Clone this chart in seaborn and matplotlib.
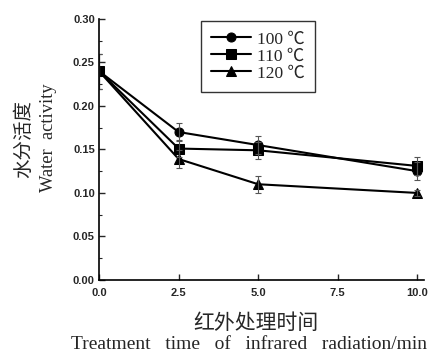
import numpy as np
import pandas as pd
import matplotlib
matplotlib.use("Agg")
import matplotlib.pyplot as plt
import seaborn as sns
from matplotlib.ticker import MultipleLocator, FormatStrFormatter

times = [0.0, 2.5, 5.0, 10.0]
series_names = ["100 ℃", "110 ℃", "120 ℃"]
aw_100 = [0.240, 0.170, 0.155, 0.125]
aw_110 = [0.240, 0.151, 0.149, 0.131]
aw_120 = [0.240, 0.139, 0.110, 0.100]
err_100 = [0.020, 0.010, 0.010, 0.010]
err_110 = [0.020, 0.010, 0.010, 0.010]
err_120 = [0.020, 0.010, 0.010, 0.003]
markers = ["o", "s", "^"]

rows = []
for name, vals in zip(series_names, [aw_100, aw_110, aw_120]):
    for t, v in zip(times, vals):
        rows.append({"time": t, "aw": v, "temp": name})
df = pd.DataFrame(rows)

sns.set_style("ticks")
plt.rcParams["font.family"] = ["Liberation Serif", "Noto Sans CJK SC", "DejaVu Sans"]

fig = plt.figure(figsize=(4.36, 3.56), dpi=100)
ax = fig.add_axes([0.227, 0.2135, 0.745, 0.7335])

sns.lineplot(data=df, x="time", y="aw", hue="temp", style="temp",
             palette=["black"] * 3, markers=markers, dashes=False,
             markersize=6.5, linewidth=1.5, markeredgecolor="black",
             ax=ax, legend=True)

for vals, errs in zip([aw_100, aw_110, aw_120], [err_100, err_110, err_120]):
    ax.errorbar(times, vals, yerr=errs, fmt="none", ecolor="#555555",
                elinewidth=0.8, capsize=2.5, capthick=0.8)

ax.set_xlim(0, 10.2)
ax.set_ylim(0, 0.30)
ax.xaxis.set_major_locator(MultipleLocator(2.5))
ax.yaxis.set_major_locator(MultipleLocator(0.05))
ax.yaxis.set_minor_locator(MultipleLocator(0.025))
ax.xaxis.set_minor_locator(MultipleLocator(1.25))
ax.xaxis.set_major_formatter(FormatStrFormatter("%.1f"))
ax.yaxis.set_major_formatter(FormatStrFormatter("%.2f"))
ax.tick_params(axis="both", which="major", direction="in", length=4, width=1,
               labelsize=8, pad=3)
ax.tick_params(axis="x", which="major", pad=6)
ax.tick_params(axis="both", which="minor", direction="in", length=2, width=0.8)
ax.tick_params(axis="x", which="minor", length=0)
for lab in ax.get_xticklabels() + ax.get_yticklabels():
    lab.set_fontfamily("Liberation Sans")
    lab.set_fontweight("bold")
for s in ["top", "right"]:
    ax.spines[s].set_visible(False)
for s in ["left", "bottom"]:
    ax.spines[s].set_linewidth(1.2)
    ax.spines[s].set_color("black")

ax.set_xlabel("")
ax.set_ylabel("")
fig.text(0.587, 0.093, "红外处理时间", ha="center", va="center", fontsize=15,
         family=["Noto Sans CJK SC"], fontweight="light")
fig.text(0.571, 0.031, "Treatment   time   of   infrared   radiation/min", ha="center",
         va="center", fontsize=14)
fig.text(0.055, 0.609, "水分活度", ha="center", va="center", fontsize=14,
         rotation=90, family=["Noto Sans CJK SC"], fontweight="light")
fig.text(0.112, 0.612, "Water  activity", ha="center", va="center", fontsize=13.3,
         rotation=90)

leg = ax.legend(loc="upper left", bbox_to_anchor=(0.314, 0.992), frameon=True,
                fancybox=False, edgecolor="black", fontsize=12.5,
                handlelength=2.3, handletextpad=0.3, labelspacing=0.05,
                borderpad=0.6, borderaxespad=0)
leg.get_frame().set_linewidth(1.0)

fig.savefig("out.png", dpi=100)
